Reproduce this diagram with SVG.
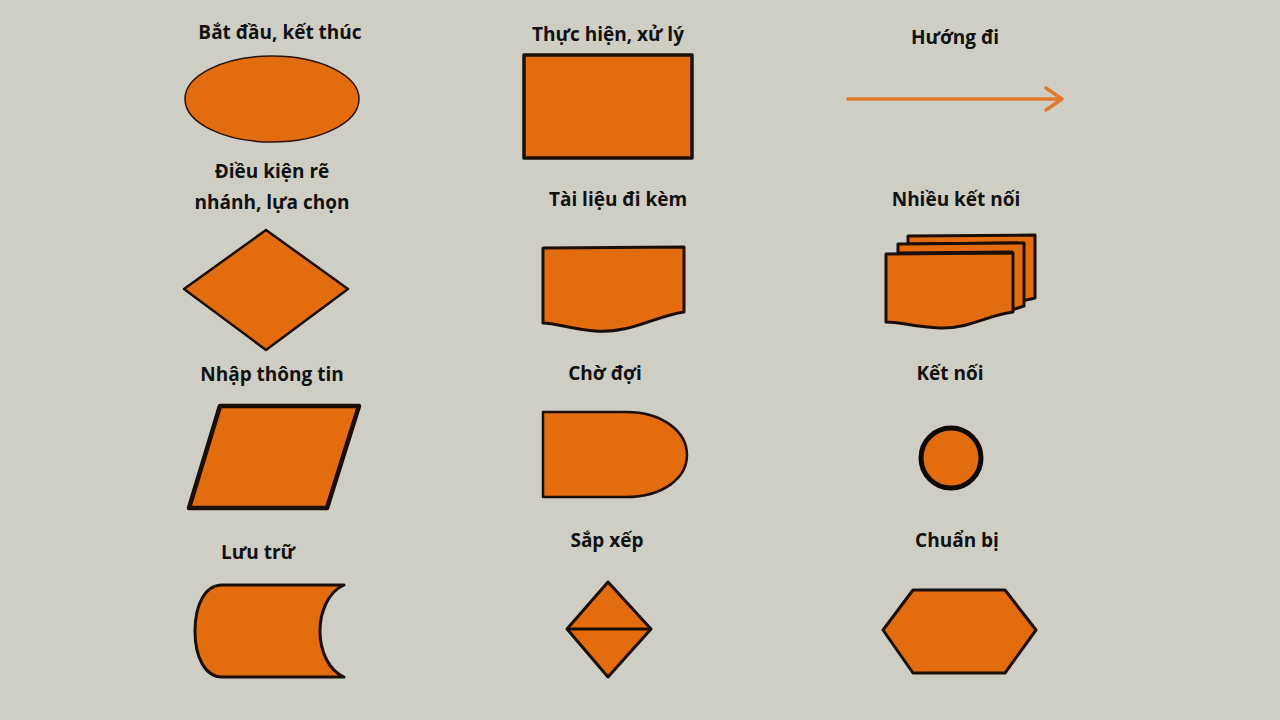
<svg xmlns="http://www.w3.org/2000/svg" width="1280" height="720" viewBox="0 0 1280 720">
<style>
.bg{fill:#cfcec5}
.t{font-family:"Open Sans","Noto Sans","DejaVu Sans",sans-serif;font-weight:700;font-size:19px;fill:#111;text-anchor:middle}
.s{fill:#e36c0e;stroke:#1a0e06;stroke-width:3;stroke-linejoin:round}
</style>
<rect class="bg" x="0" y="0" width="1280" height="720"/>
<g id="start-end">
<text class="t" x="280" y="39">Bắt đầu, kết thúc</text>
<ellipse class="s" cx="272" cy="99" rx="87" ry="43" style="stroke-width:1.5;stroke:#2a1206"/>
</g>
<g id="process">
<text class="t" x="608" y="41">Thực hiện, xử lý</text>
<rect class="s" x="524" y="55" width="168" height="103" style="stroke-width:3.5"/>
</g>
<g id="flow">
<text class="t" x="955" y="44">Hướng đi</text>
</g>
<g id="connectors">
<line x1="848" y1="99" x2="1061" y2="99" stroke="#e0772a" stroke-width="3.5" stroke-linecap="round"/>
<polyline points="1046,88 1062,99 1046,110" fill="none" stroke="#e0772a" stroke-width="3.5" stroke-linecap="round" stroke-linejoin="round"/>
</g>
<g id="decision">
<text class="t" x="272" y="178">Điều kiện rẽ</text>
<text class="t" x="272" y="209">nhánh, lựa chọn</text>
<polygon class="s" points="266,230 348,289 266,350 184,289" style="stroke-width:2.5"/>
</g>
<g id="document">
<text class="t" x="618" y="206">Tài liệu đi kèm</text>
<path class="s" d="M543,248 L684,247 L684,312 C655,316 630,334 595,331 C570,329 556,323 543,323 Z"/>
</g>
<g id="multi-document">
<text class="t" x="956" y="206">Nhiều kết nối</text>
<path class="s" d="M908,236 L1035,235 L1035,298 L1018,302 L1018,243 L908,244 Z"/>
<path class="s" d="M898,244 L1024,243 L1024,306 L1012,310 L1012,252 L898,253 Z"/>
<path class="s" d="M886,254 L1013,253 L1013,312 C988,315 968,329 940,328 C915,327 900,322 886,322 Z"/>
</g>
<g id="input">
<text class="t" x="272" y="381">Nhập thông tin</text>
<polygon class="s" points="220,406 359,406 327,508 189,508" style="stroke-width:4.5"/>
</g>
<g id="delay">
<text class="t" x="605" y="380">Chờ đợi</text>
<path class="s" d="M543,412 H626 C663,412 687,432 687,455 C687,478 663,497 626,497 H543 Z" style="stroke-width:2.5"/>
</g>
<g id="connector">
<text class="t" x="950" y="380">Kết nối</text>
<circle class="s" cx="951" cy="458" r="30" style="stroke-width:5;stroke:#0e0805"/>
</g>
<g id="storage">
<text class="t" x="258" y="559">Lưu trữ</text>
<path class="s" d="M344,585 H222 C205,585 195,605 195,631 C195,657 205,677 222,677 H344 C328,670 320,650 320,631 C320,612 328,592 344,585 Z"/>
</g>
<g id="sort">
<text class="t" x="607" y="547">Sắp xếp</text>
<polygon class="s" points="608,582 651,629 608,677 567,629"/>
<line x1="567" y1="629" x2="651" y2="629" stroke="#1a0e06" stroke-width="3"/>
</g>
<g id="preparation">
<text class="t" x="957" y="547">Chuẩn bị</text>
<polygon class="s" points="883,630 913,590 1005,590 1036,630 1005,673 913,673"/>
</g>
</svg>
